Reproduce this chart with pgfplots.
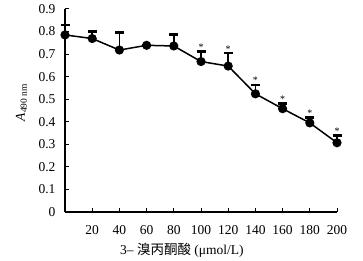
\documentclass[border=0pt]{standalone}
\usepackage{pgfplots}
\pgfplotsset{compat=1.18}
\usepackage{fontspec}
\setmainfont{Liberation Serif}
\newfontfamily\cjk{Noto Sans CJK SC}
\begin{document}
\begin{tikzpicture}
\begin{axis}[
  scale only axis, width=272pt, height=203pt,
  xmin=0, xmax=200, ymin=0, ymax=0.9,
  axis lines=left, axis line style={-, line width=1.2pt},
  xtick={20,40,...,200}, ytick={0,0.1,...,0.9},
  tick align=inside, major tick length=4pt,
  tick style={line width=1pt, black},
  /pgf/number format/assume math mode=true,
  /pgf/number format/fixed,
  tick label style={font=\fontsize{13.5}{15}\selectfont},
  label style={font=\fontsize{13.5}{15}\selectfont},
  yticklabel style={xshift=-6pt},
  xticklabel style={yshift=-10pt},
  xlabel={3– {\cjk 溴丙酮酸} (μmol/L)},
  xlabel style={at={(rel axis cs:0.43,-0.19)}, anchor=center},
  ylabel={\textit{A}\textsubscript{490 nm}},
  ylabel style={at={(rel axis cs:-0.16,0.54)}, anchor=center},
  clip=false,
]
\addplot[black, line width=1.5pt, mark=*, mark size=3.8pt,
  error bars/.cd, y dir=plus, y explicit,
  error bar style={line width=1.5pt},
  error mark options={rotate=90, mark size=4.5pt, line width=2.5pt}]
  coordinates {
  (0,0.785) +- (0,0.043)
  (20,0.769) +- (0,0.031)
  (40,0.718) +- (0,0.078)
  (60,0.739) +- (0,0.0)
  (80,0.736) +- (0,0.052)
  (100,0.667) +- (0,0.044)
  (120,0.647) +- (0,0.057)
  (140,0.524) +- (0,0.039)
  (160,0.458) +- (0,0.022)
  (180,0.395) +- (0,0.025)
  (200,0.307) +- (0,0.032)
  };
\addplot[draw=none, mark=none, nodes near coords={*},
  every node near coord/.style={anchor=south, inner sep=0pt, yshift=1pt, font=\fontsize{10}{10}\selectfont}]
  coordinates {
  (100,0.711) (120,0.704) (140,0.563) (160,0.480) (180,0.420) (200,0.339)
  };
\coordinate (ll) at (rel axis cs:0,0);
\coordinate (ur) at (rel axis cs:1,1);
\end{axis}
\pgfresetboundingbox
\path[use as bounding box] ([shift={(-65pt,-49pt)}]ll) rectangle ([shift={(26pt,9pt)}]ur);
\end{tikzpicture}
\end{document}
